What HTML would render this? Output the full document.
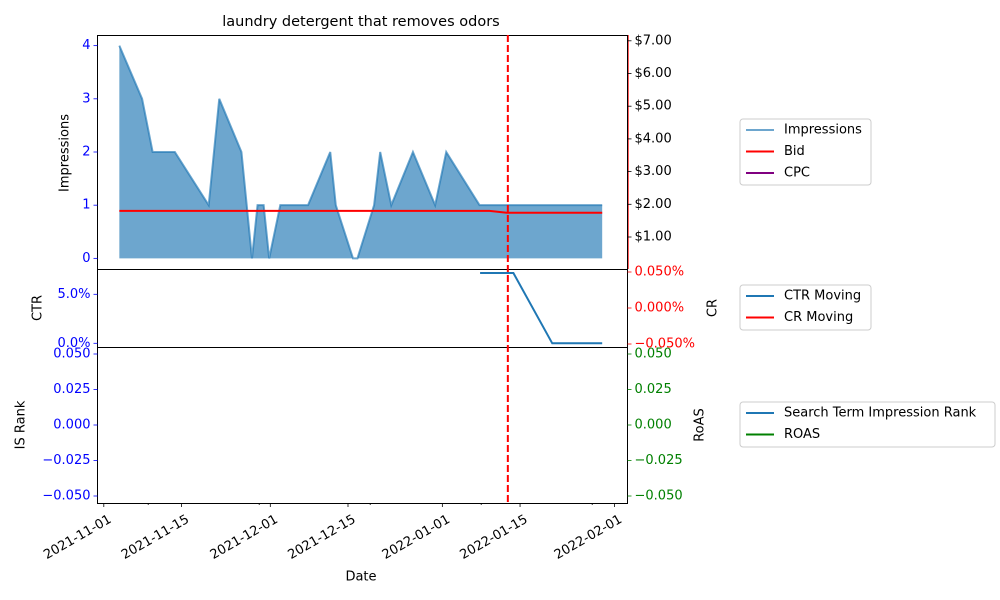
<!DOCTYPE html>
<html><head><meta charset="utf-8"><style>
body{margin:0;background:#fff}
svg{display:block;font-family:"DejaVu Sans","Liberation Sans",sans-serif}
</style></head><body>
<svg id="c" width="1000" height="600" xmlns="http://www.w3.org/2000/svg"></svg>
<script>
// data (x = days since 2021-11-01)
const impDays=[2.8,6.9,8.8,12.8,18.9,20.8,24.8,26.7,27.7,28.8,29.8,31.8,36.8,40.8,41.8,44.9,45.7,48.7,49.8,51.8,55.7,59.7,61.7,67.7,89.8];
const impVals=[4,3,2,2,1,3,2,0,1,1,0,1,1,2,1,0,0,1,2,1,2,1,2,1,1];
const bidDays=[2.8,69.5,72.6,89.8];
const bidVals=[1.80,1.80,1.74,1.74];
const ctrDays=[67.8,73.8,80.8,89.8];
const ctrVals=[7.17,7.17,0,0];
const markerDay=72.8;
const dateTicks=[0,14,30,44,61,75,92];
const dateLabels=["2021-11-01","2021-11-15","2021-12-01","2021-12-15","2022-01-01","2022-01-15","2022-02-01"];
const minorTicks=[8,28,48,68,88];
const impTicks=[0,1,2,3,4];
const bidTicks=[1,2,3,4,5,6,7];
const ctrTicks=[0,5];
const crTicks=[0.05,0,-0.05];
const rankTicks=[0.05,0.025,0,-0.025,-0.05];

const S=document.getElementById('c'),NS='http://www.w3.org/2000/svg';
function el(t,a,txt){const e=document.createElementNS(NS,t);for(const k in a)e.setAttribute(k,a[k]);if(txt!=null)e.textContent=txt;S.appendChild(e);return e;}
const L=97.5,R=627.5;
const X=d=>103.8+d*5.55;
const yImp=v=>269-(v+0.2)/4.4*234;
const yBid=v=>269.7-v*32.7;
const yCtr=v=>343.3-v*9.8;
const yCr=v=>308-v*720;
const yRank=v=>425-v*1420;

let p='M'+X(impDays[0])+','+yImp(0);
impDays.forEach((d,i)=>p+=' L'+X(d)+','+yImp(impVals[i]));
p+=' L'+X(impDays[impDays.length-1])+','+yImp(0)+' Z';
let a=el('path',{d:p,fill:'#1f77b4','fill-opacity':0.65,stroke:'none'});


let lp=impDays.map((d,i)=>(i?'L':'M')+X(d)+','+yImp(impVals[i])).join(' ');
a=el('path',{d:lp,fill:'none',stroke:'#1f77b4','stroke-opacity':0.65,'stroke-width':2});


a=el('path',{d:bidDays.map((d,i)=>(i?'L':'M')+X(d)+','+yBid(bidVals[i])).join(' '),fill:'none',stroke:'red','stroke-width':2});


a=el('path',{d:ctrDays.map((d,i)=>(i?'L':'M')+X(d)+','+yCtr(ctrVals[i])).join(' '),fill:'none',stroke:'#1f77b4','stroke-width':2});



[[35.5,269.5],[269.5,347.5],[347.5,503.5]].forEach((f,i)=>{
  const r=el('rect',{x:L,y:f[0],width:R-L,height:f[1]-f[0],fill:'none',stroke:'#000','stroke-width':1});
  
  
});
el('line',{x1:628.5,y1:35,x2:628.5,y2:269,stroke:'red','stroke-width':0.8,'stroke-opacity':0.8});
a=el('line',{x1:X(markerDay),y1:35,x2:X(markerDay),y2:503,stroke:'red','stroke-width':2,'stroke-dasharray':'7,3'});



function tick(x1,y1,x2,y2,c){el('line',{x1,y1,x2,y2,stroke:c||'#000','stroke-width':0.8});}
function txt(x,y,s,anchor,fill,extra){return el('text',Object.assign({x,y,'font-size':13,'text-anchor':anchor,fill:fill||'#000','dominant-baseline':'central'},extra||{}),s);}
impTicks.forEach(v=>{tick(L-4,yImp(v),L,yImp(v),'blue');txt(L-7,yImp(v),String(v),'end','blue');});
bidTicks.forEach(v=>{tick(R,yBid(v),R+4,yBid(v));txt(R+7,yBid(v),'$'+v.toFixed(2),'start','#000');});
ctrTicks.forEach(v=>{tick(L-4,yCtr(v),L,yCtr(v),'blue');txt(L-7,yCtr(v),v.toFixed(1)+'%','end','blue');});
crTicks.forEach(v=>{tick(R,yCr(v),R+4,yCr(v),'red');txt(R+7,yCr(v),(v<0?'\u22120.050':v.toFixed(3))+'%','start','red');});
rankTicks.forEach(v=>{const s=(v<0?'\u2212':'')+Math.abs(v).toFixed(3);tick(L-4,yRank(v),L,yRank(v),'blue');txt(L-7,yRank(v),s,'end','blue');tick(R,yRank(v),R+4,yRank(v),'green');txt(R+7,yRank(v),s,'start','green');});
dateTicks.forEach((d,i)=>{tick(X(d),503,X(d),507);txt(X(d)+4,514,dateLabels[i],'end','#000',{transform:'rotate(-30 '+(X(d)+4)+' 514)','dominant-baseline':'hanging'});});
minorTicks.forEach(d=>tick(X(d),503,X(d),505));

txt(361,22,'laundry detergent that removes odors','middle','#000',{'font-size':14.5});
txt(361,577,'Date','middle');
txt(65,153,'Impressions','middle','#000',{transform:'rotate(-90 65 153)'});
txt(38,308,'CTR','middle','#000',{transform:'rotate(-90 38 308)'});
txt(713,308,'CR','middle','#000',{transform:'rotate(-90 713 308)'});
txt(21,425,'IS Rank','middle','#000',{transform:'rotate(-90 21 425)'});
txt(700,425,'RoAS','middle','#000',{transform:'rotate(-90 700 425)'});

function legend(x,y,w,h,items,name){
  const r=el('rect',{x,y,width:w,height:h,fill:'#fff',stroke:'#ccc',rx:3});
  
  
  items.forEach((it,i)=>{const yy=y+11+i*21.5;el('line',{x1:x+6,y1:yy,x2:x+34,y2:yy,stroke:it[1],'stroke-width':2,'stroke-opacity':it[2]||1});txt(x+44,yy,it[0],'start','#000');});
}
legend(740,119,131,66,[['Impressions','#1f77b4',0.65],['Bid','red'],['CPC','purple']],'legend-top');
legend(740,285,131,45,[['CTR Moving','#1f77b4'],['CR Moving','red']],'legend-middle');
legend(740,402,255,45,[['Search Term Impression Rank','#1f77b4'],['ROAS','green']],'legend-bottom');
</script>
</body></html>
